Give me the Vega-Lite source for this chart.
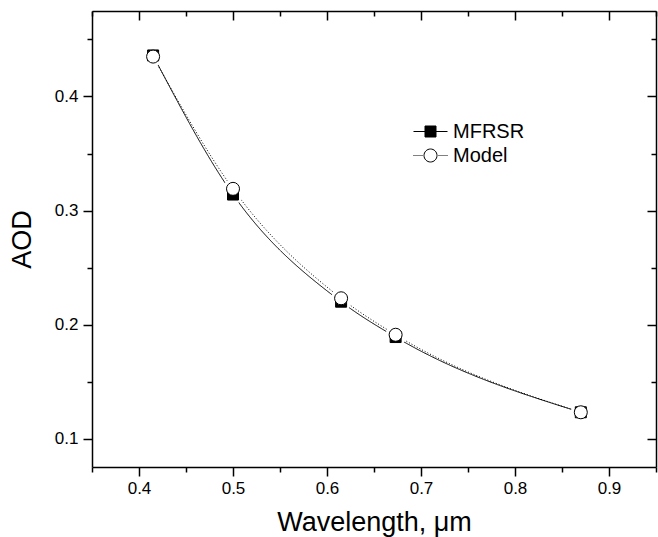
{
  "$schema": "https://vega.github.io/schema/vega-lite/v6.json",
  "width": 564,
  "height": 456,
  "autosize": "none",
  "padding": {"left": 92, "top": 11, "right": 2, "bottom": 70},
  "background": "white",
  "config": {
    "view": {"stroke": null},
    "font": "Liberation Sans",
    "axis": {
      "domainColor": "black", "domainWidth": 1.5, "tickColor": "black", "tickWidth": 1.5,
      "labelColor": "black", "titleColor": "black", "grid": false,
      "labelFont": "Liberation Sans", "titleFont": "Liberation Sans",
      "labelFontSize": 17, "titleFontSize": 27, "titleFontWeight": "normal"
    }
  },
  "data": {
    "values": [
      {"series": "MFRSR", "wavelength": 0.415, "aod": 0.436},
      {"series": "MFRSR", "wavelength": 0.5, "aod": 0.314},
      {"series": "MFRSR", "wavelength": 0.615, "aod": 0.220},
      {"series": "MFRSR", "wavelength": 0.673, "aod": 0.189},
      {"series": "MFRSR", "wavelength": 0.87, "aod": 0.123},
      {"series": "Model", "wavelength": 0.415, "aod": 0.435},
      {"series": "Model", "wavelength": 0.5, "aod": 0.319},
      {"series": "Model", "wavelength": 0.615, "aod": 0.223},
      {"series": "Model", "wavelength": 0.673, "aod": 0.191},
      {"series": "Model", "wavelength": 0.87, "aod": 0.123}
    ]
  },
  "resolve": {
    "axis": {"x": "independent", "y": "independent"},
    "scale": {"shape": "independent", "fill": "independent", "stroke": "independent"}
  },
  "layer": [
    {
      "mark": {"type": "line", "interpolate": "monotone", "color": "black", "strokeWidth": 1},
      "encoding": {
        "x": {"field": "wavelength", "type": "quantitative",
          "scale": {"domain": [0.35, 0.95], "nice": false, "zero": false},
          "axis": {"orient": "bottom", "title": "Wavelength, \u03bcm",
            "values": [0.35, 0.4, 0.45, 0.5, 0.55, 0.6, 0.65, 0.7, 0.75, 0.8, 0.85, 0.9, 0.95],
            "labelExpr": "round(datum.value*100) % 10 == 0 ? format(datum.value, '.1f') : ''",
            "tickSize": {"condition": {"test": "round(datum.value*100) % 10 == 0", "value": 9}, "value": 5},
            "labelPadding": 4, "titlePadding": 13, "labelFlush": false, "labelOverlap": false}},
        "y": {"field": "aod", "type": "quantitative",
          "scale": {"domain": [0.075, 0.475], "nice": false, "zero": false},
          "axis": {"orient": "left", "title": "AOD",
            "values": [0.1, 0.15, 0.2, 0.25, 0.3, 0.35, 0.4, 0.45],
            "labelExpr": "round(datum.value*100) % 10 == 0 ? format(datum.value, '.1f') : ''",
            "tickSize": {"condition": {"test": "round(datum.value*100) % 10 == 0", "value": 9}, "value": 5},
            "labelPadding": 5, "titlePadding": 18, "labelFlush": false, "labelOverlap": false}},
        "strokeDash": {"field": "series", "type": "nominal",
          "scale": {"domain": ["MFRSR", "Model"], "range": [[1, 0], [1, 2]]}, "legend": null}
      }
    },
    {
      "mark": {"type": "point", "shape": "circle", "filled": true, "color": "white", "size": 400, "opacity": 1},
      "encoding": {
        "x": {"field": "wavelength", "type": "quantitative",
          "axis": {"orient": "top", "title": null, "labels": false,
            "values": [0.35, 0.4, 0.45, 0.5, 0.55, 0.6, 0.65, 0.7, 0.75, 0.8, 0.85, 0.9, 0.95],
            "tickSize": {"condition": {"test": "round(datum.value*100) % 10 == 0", "value": -9}, "value": -5}}},
        "y": {"field": "aod", "type": "quantitative",
          "axis": {"orient": "right", "title": null, "labels": false,
            "values": [0.1, 0.15, 0.2, 0.25, 0.3, 0.35, 0.4, 0.45],
            "tickSize": {"condition": {"test": "round(datum.value*100) % 10 == 0", "value": -9}, "value": -5}}}
      }
    },
    {
      "mark": {"type": "point", "stroke": "black", "strokeWidth": 1, "opacity": 1},
      "encoding": {
        "x": {"field": "wavelength", "type": "quantitative", "axis": null},
        "y": {"field": "aod", "type": "quantitative", "axis": null},
        "shape": {"field": "series", "type": "nominal",
          "scale": {"domain": ["MFRSR", "Model"], "range": ["square", "circle"]}, "legend": null},
        "fill": {"field": "series", "type": "nominal",
          "scale": {"domain": ["MFRSR", "Model"], "range": ["black", "white"]}, "legend": null},
        "size": {"field": "series", "type": "nominal",
          "scale": {"domain": ["MFRSR", "Model"], "range": [121, 169]}, "legend": null}
      }
    },
    {
      "transform": [{"filter": "false"}],
      "mark": {"type": "point", "filled": true, "strokeWidth": 1, "opacity": 1},
      "encoding": {
        "x": {"field": "wavelength", "type": "quantitative", "axis": null},
        "y": {"field": "aod", "type": "quantitative", "axis": null},
        "shape": {"field": "series", "type": "nominal",
          "scale": {"domain": ["MFRSR", "Model"], "range": [
            "M-1.7,0H-0.55M0.55,0H1.7M-0.55,-0.55H0.55V0.55H-0.55Z",
            "M-1.7,0h0.1M-1.5,0h0.1M-1.3,0h0.1M-1.1,0h0.1M-0.9,0h0.1M0.8,0h0.1M1,0h0.1M1.2,0h0.1M1.4,0h0.1M1.6,0h0.1M-0.65,0a0.65,0.65 0 1,0 1.3,0a0.65,0.65 0 1,0 -1.3,0Z"]},
          "legend": {"title": null, "orient": "none", "legendX": 328, "legendY": 110,
            "padding": 0, "symbolSize": 400, "labelOffset": 12, "rowPadding": 3,
            "labelFontSize": 20, "labelFont": "Liberation Sans", "labelColor": "black",
            "symbolStrokeWidth": 1, "symbolOpacity": 1}},
        "fill": {"field": "series", "type": "nominal",
          "scale": {"domain": ["MFRSR", "Model"], "range": ["black", "white"]},
          "legend": {"title": null, "orient": "none", "legendX": 328, "legendY": 110,
            "padding": 0, "symbolSize": 400, "labelOffset": 12, "rowPadding": 3,
            "labelFontSize": 20, "labelFont": "Liberation Sans", "labelColor": "black",
            "symbolStrokeWidth": 1, "symbolOpacity": 1}},
        "stroke": {"field": "series", "type": "nominal",
          "scale": {"domain": ["MFRSR", "Model"], "range": ["black", "black"]},
          "legend": {"title": null, "orient": "none", "legendX": 328, "legendY": 110,
            "padding": 0, "symbolSize": 400, "labelOffset": 12, "rowPadding": 3,
            "labelFontSize": 20, "labelFont": "Liberation Sans", "labelColor": "black",
            "symbolStrokeWidth": 1, "symbolOpacity": 1}}
      }
    }
  ]
}
